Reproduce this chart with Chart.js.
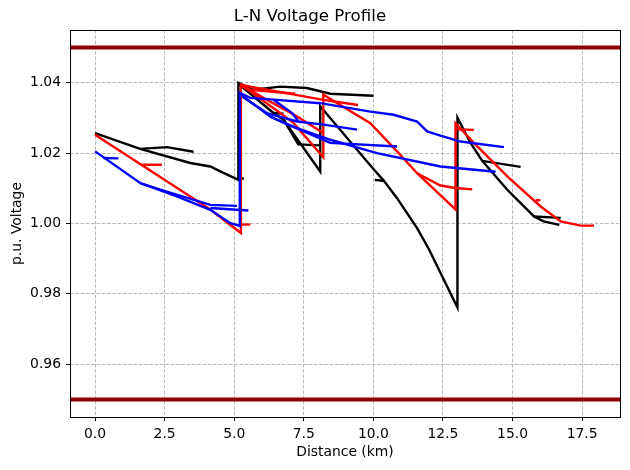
<!DOCTYPE html>
<html>
<head>
<meta charset="utf-8">
<script src="https://cdn.jsdelivr.net/npm/chart.js@4.4.0/dist/chart.umd.min.js"></script>
<style>
  html, body { margin: 0; padding: 0; background: #fff; }
  canvas { display: block; }
</style>
</head>
<body>
<canvas id="Chart-voltage" width="630" height="470"></canvas>
<script>
// points are [distance km, voltage p.u.]
var limitVoltages = [0.95, 1.05];
var distanceRange = [-0.9, 18.86];

// phase 1 (black)
var black1 = [[0, 1.0257], [1.62, 1.0212], [3.42, 1.0172], [4.14, 1.0162], [4.5, 1.0148], [5.15, 1.0124],
  [5.15, 1.0400], [5.7, 1.0380], [6.65, 1.0389], [7.61, 1.0385], [8.45, 1.0369], [10.0, 1.0363]];
var black2 = [[1.62, 1.0212], [2.58, 1.0217], [3.54, 1.0204]];
var black3 = [[5.15, 1.0397], [6.41, 1.0314], [6.77, 1.0295], [7.3, 1.0225], [8.09, 1.0222]];
var black4 = [[6.41, 1.0314], [6.77, 1.0312]];
var black5 = [[6.77, 1.0295], [8.09, 1.0148], [8.09, 1.0333], [10.0, 1.0155], [10.37, 1.0122], [10.85, 1.0072],
  [11.57, 0.9987], [12.0, 0.9926], [13.02, 0.9761], [13.02, 1.0301], [13.49, 1.0229], [13.91, 1.0178],
  [14.81, 1.0096], [15.77, 1.0020], [16.12, 1.0006], [16.68, 0.9996]];
var black6 = [[13.91, 1.0178], [15.29, 1.0161]];
var black7 = [[15.77, 1.0020], [16.73, 1.0016]];
var black8 = [[10.05, 1.0124], [10.4, 1.0121]];
var black9 = [[5.1, 1.0128], [5.35, 1.0128]];

// phase 2 (red)
var red1 = [[0, 1.0252], [4.14, 1.0040], [5.24, 0.9973], [5.24, 1.0394], [6.65, 1.0314], [7.13, 1.0286],
  [8.2, 1.0188], [8.2, 1.0366], [9.89, 1.0285], [10.85, 1.0205], [11.57, 1.0143], [12.95, 1.0040],
  [12.95, 1.0285], [13.61, 1.0229], [14.81, 1.0134], [16.0, 1.0049], [16.73, 1.0006], [17.45, 0.9994], [17.93, 0.9994]];
var red2 = [[1.62, 1.0167], [2.4, 1.0167]];
var red3 = [[5.22, 0.9997], [5.58, 0.9997]];
var red4 = [[5.24, 1.0394], [5.58, 1.0380], [7.19, 1.0369]];
var red5 = [[5.24, 1.0394], [8.15, 1.0352], [9.45, 1.0337]];
var red6 = [[5.24, 1.0394], [6.05, 1.0357], [7.26, 1.0304], [8.2, 1.0257]];
var red7 = [[11.57, 1.0143], [12.41, 1.0108], [12.95, 1.0101], [13.55, 1.0097]];
var red8 = [[12.95, 1.0268], [13.61, 1.0266]];
var red9 = [[15.83, 1.0066], [16.0, 1.0066]];

// phase 3 (blue)
var blue1 = [[0, 1.0205], [1.62, 1.0115], [2.94, 1.0077], [4.14, 1.0039], [4.86, 1.0001], [5.2, 0.9993],
  [5.2, 1.0371], [5.58, 1.0357], [6.41, 1.0352], [8.09, 1.0342], [9.89, 1.0318], [10.73, 1.0309],
  [11.57, 1.0290], [11.93, 1.0262], [12.41, 1.0250], [13.13, 1.0233], [14.69, 1.0217]];
var blue2 = [[0.3, 1.0186], [0.84, 1.0185]];
var blue3 = [[1.62, 1.0115], [2.34, 1.0096], [4.14, 1.0053], [5.1, 1.0050]];
var blue4 = [[4.14, 1.0044], [5.51, 1.0037]];
var blue5 = [[5.2, 1.0368], [6.29, 1.0304], [7.01, 1.0278], [8.45, 1.0238], [10.13, 1.0200], [12.41, 1.0162], [14.39, 1.0147]];
var blue6 = [[6.29, 1.0304], [7.5, 1.0262], [8.45, 1.0229], [10.85, 1.0219]];
var blue7 = [[6.41, 1.0352], [7.08, 1.0314], [7.31, 1.0290]];
var blue8 = [[5.3, 1.0360], [6.17, 1.0314], [7.26, 1.0290], [8.21, 1.0281], [9.41, 1.0267]];

var yTicks = [0.96, 0.98, 1.00, 1.02, 1.04];

function toXY(points) {
  return points.map(function (p) { return { x: p[0], y: p[1] }; });
}

function lineSet(points, color, width) {
  return {
    data: toXY(points),
    borderColor: color,
    backgroundColor: color,
    borderWidth: width,
    pointRadius: 0,
    fill: false,
    tension: 0
  };
}

var datasets = [];
limitVoltages.forEach(function (v) {
  datasets.push(lineSet([[distanceRange[0], v], [distanceRange[1], v]], '#8b0000', 4));
});
[blue1, blue2, blue3, blue4, blue5, blue6, blue7, blue8].forEach(function (s) { datasets.push(lineSet(s, '#0000ff', 2.4)); });
[red1, red2, red3, red4, red5, red6, red7, red8, red9].forEach(function (s) { datasets.push(lineSet(s, '#ff0000', 2.4)); });
[black1, black2, black3, black4, black5, black6, black7, black8, black9].forEach(function (s) { datasets.push(lineSet(s, '#000000', 2.4)); });

var framePlugin = {
  id: 'frame',
  afterDatasetsDraw: function (chart) {
    var a = chart.chartArea;
    var ctx = chart.ctx;
    ctx.save();
    ctx.strokeStyle = '#000';
    ctx.lineWidth = 1;
    ctx.setLineDash([]);
    ctx.strokeRect(Math.round(a.left) + 0.5, Math.round(a.top) + 0.5, Math.round(a.right - a.left), Math.round(a.bottom - a.top));
    ctx.restore();
  }
};

var tickFont = { family: 'DejaVu Sans', size: 13.9 };

var ctx = document.getElementById('Chart-voltage').getContext('2d');
var voltageChart = new Chart(ctx, {
  type: 'line',
  data: { datasets: datasets },
  plugins: [framePlugin],
  options: {
    responsive: false,
    animation: false,
    devicePixelRatio: 1,
    layout: { padding: { left: 0, right: 10, top: 0, bottom: 0 } },
    plugins: {
      legend: { display: false },
      tooltip: { enabled: false },
      title: {
        display: true,
        text: 'L-N Voltage Profile',
        color: '#000',
        font: { family: 'DejaVu Sans', size: 16.67, weight: 'normal', lineHeight: 1.2 },
        padding: { top: 7, bottom: 3 }
      }
    },
    scales: {
      x: {
        type: 'linear',
        position: 'bottom',
        min: distanceRange[0],
        max: distanceRange[1],
        afterFit: function (scale) { scale.height = 53; },
        border: { display: false, dash: [3.5, 1.8] },
        grid: { color: '#b8b8b8', lineWidth: 1, tickLength: 4, tickColor: '#000', tickBorderDash: [10, 0], tickWidth: 1 },
        ticks: {
          stepSize: 2.5,
          includeBounds: false,
          autoSkip: false,
          maxRotation: 0,
          padding: 5,
          color: '#000',
          font: tickFont,
          callback: function (v) { return v.toFixed(1); }
        },
        title: { display: true, text: 'Distance (km)', color: '#000', font: tickFont, padding: { top: 0, bottom: 9 } }
      },
      y: {
        type: 'linear',
        min: 0.945,
        max: 1.055,
        afterFit: function (scale) { scale.width = 70; },
        afterBuildTicks: function (scale) {
          scale.ticks = yTicks.map(function (v) { return { value: v }; });
        },
        border: { display: false, dash: [3.5, 1.8] },
        grid: { color: '#b8b8b8', lineWidth: 1, tickLength: 4, tickColor: '#000', tickBorderDash: [10, 0], tickWidth: 1 },
        ticks: {
          padding: 5,
          color: '#000',
          font: tickFont,
          callback: function (v) { return v.toFixed(2); }
        },
        title: { display: true, text: 'p.u. Voltage', color: '#000', font: tickFont, padding: { top: 9, bottom: 0 } }
      }
    }
  }
});
</script>
</body>
</html>
